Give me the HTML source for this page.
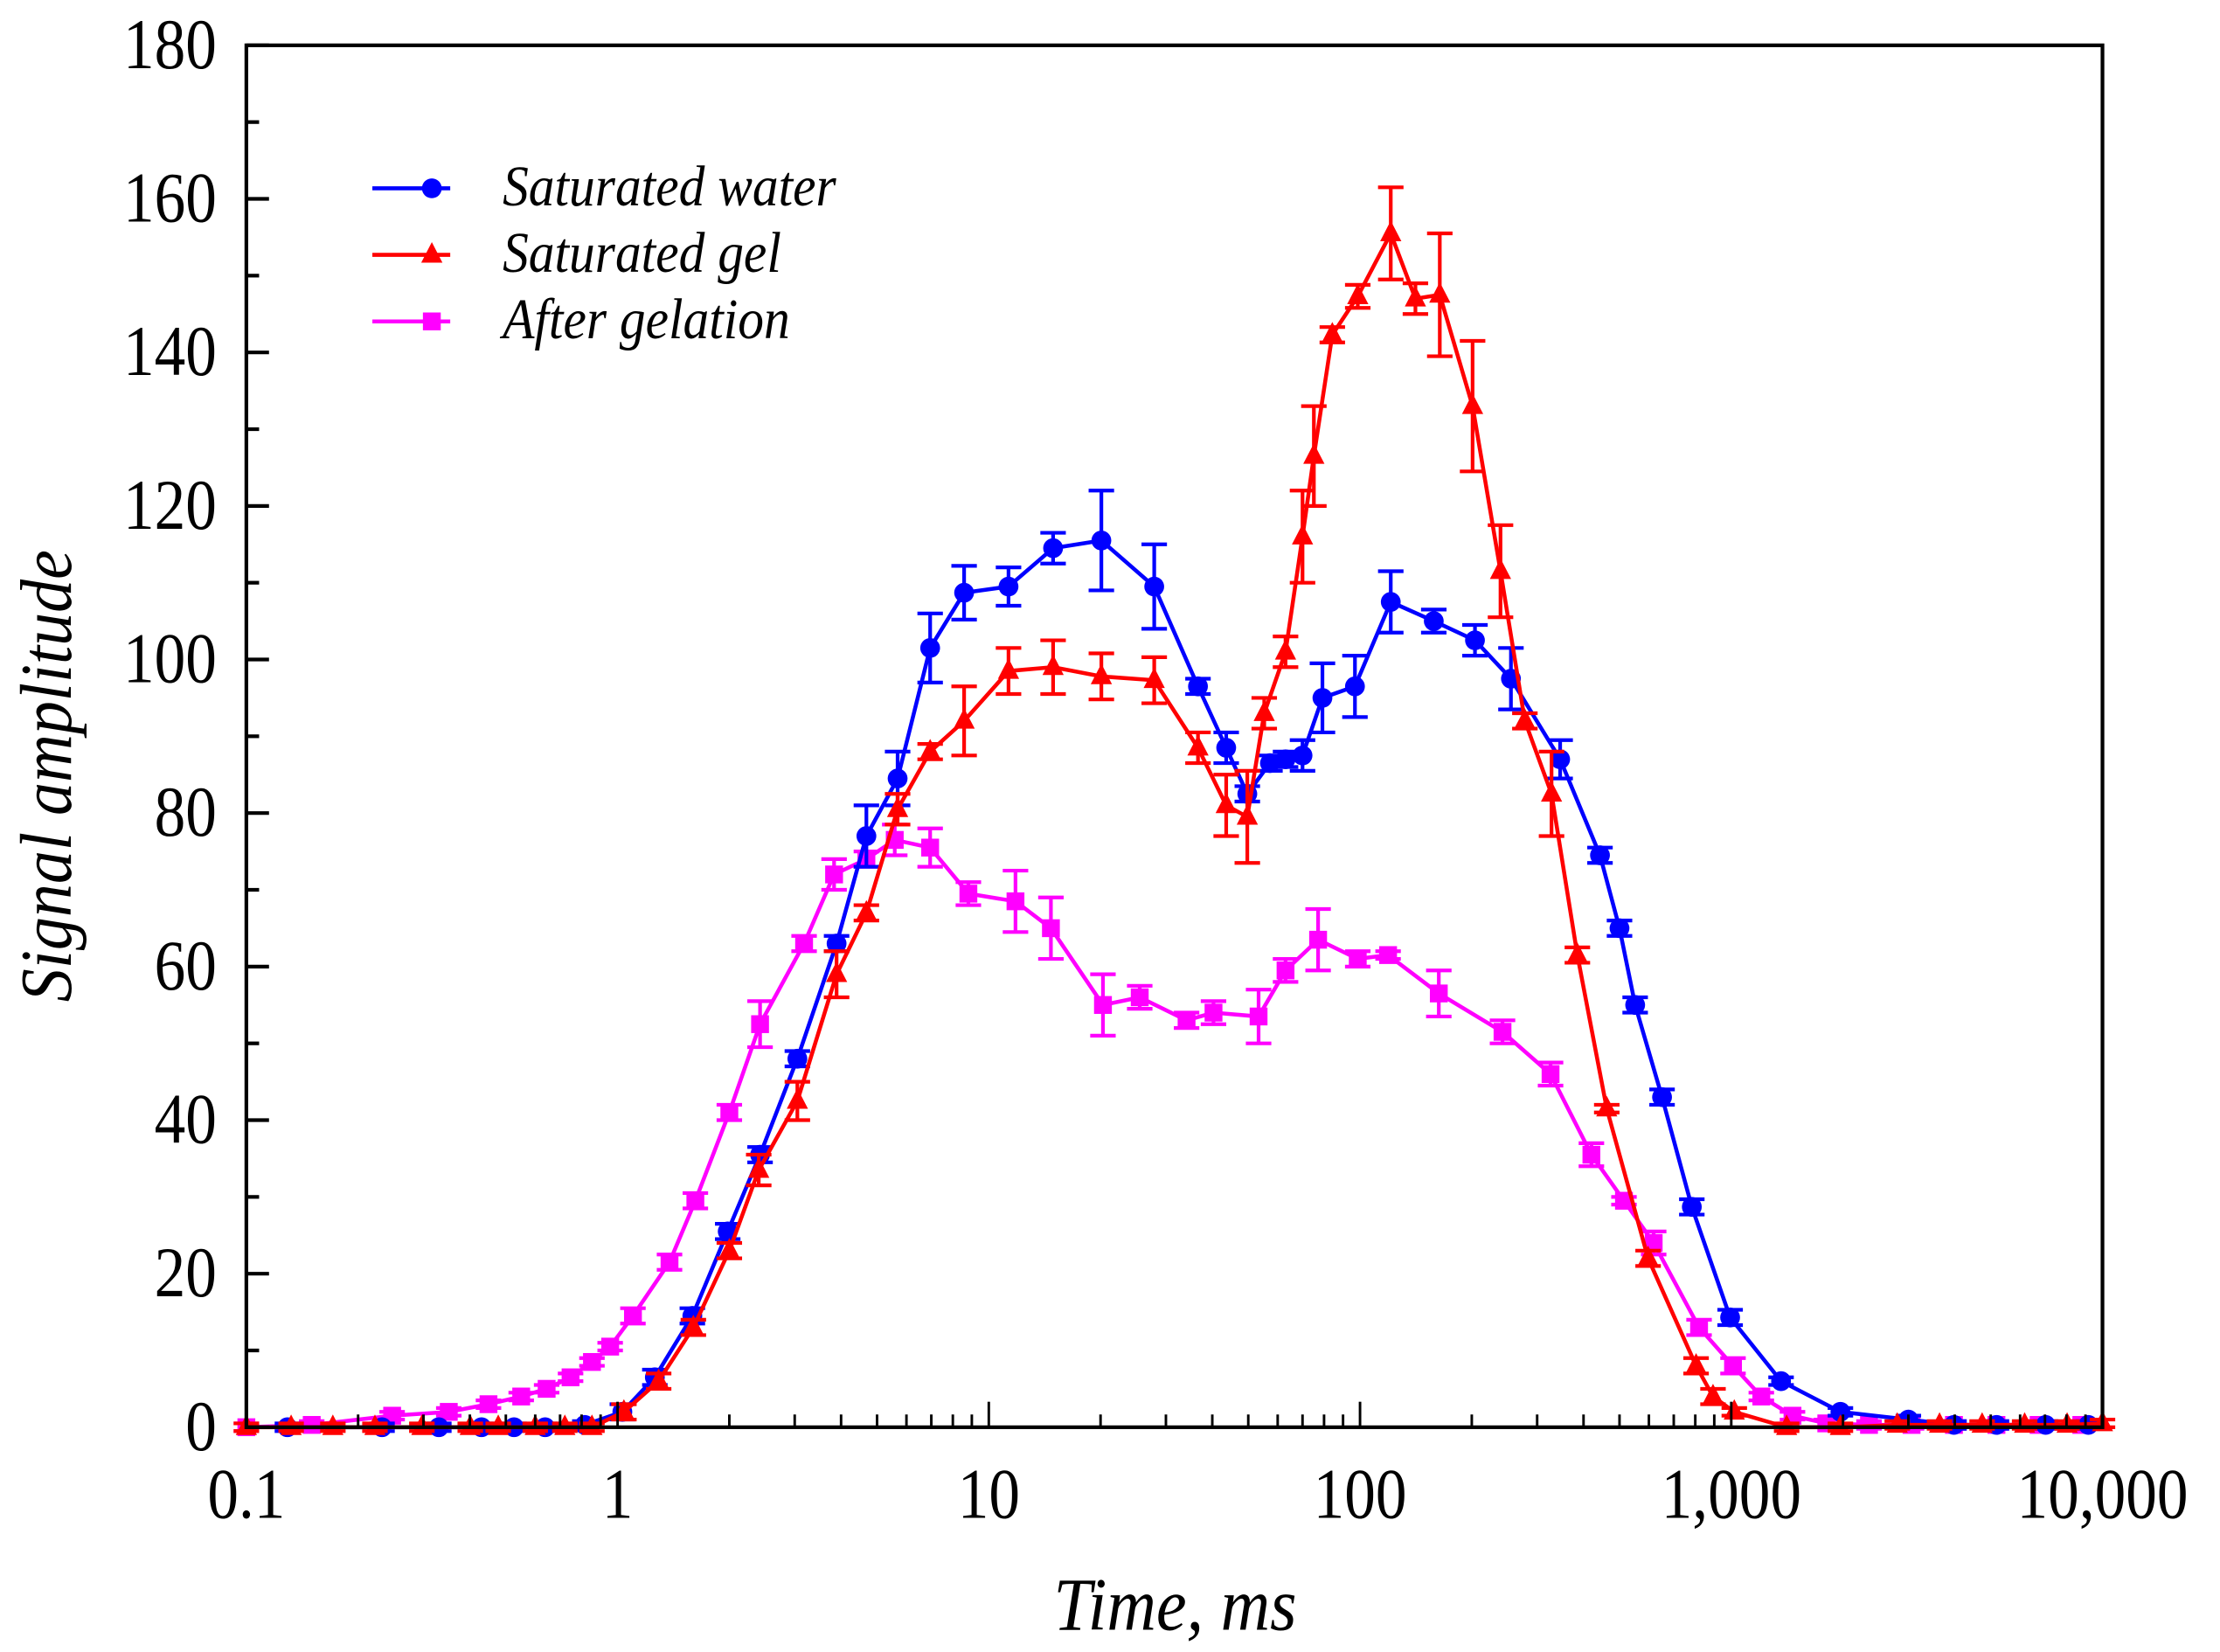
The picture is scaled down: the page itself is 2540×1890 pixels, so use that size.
<!DOCTYPE html>
<html><head><meta charset="utf-8">
<style>
html,body{margin:0;padding:0;background:#fff;}
svg{display:block;}
text{font-family:"Liberation Serif",serif;fill:#000;}
</style></head>
<body>
<svg id="chart" width="2540" height="1890" viewBox="0 0 1568 1166.75" xmlns="http://www.w3.org/2000/svg">
<rect x="0" y="0" width="1568" height="1167" fill="#fff"/>
<g id="plot"></g>
<g id="axes"></g>
</svg>
<script>
// ---- data ----
const xTickValues = [0.1, 1, 10, 100, 1000, 10000];
const xTickLabels = ["0.1", "1", "10", "100", "1,000", "10,000"];
const yTickValues = [0, 20, 40, 60, 80, 100, 120, 140, 160, 180];
const yTickLabels = ["0", "20", "40", "60", "80", "100", "120", "140", "160", "180"];

const waterTime = [0.129,0.232,0.330,0.430,0.526,0.638,0.816,1.03,1.26,1.59,1.98,2.42,3.05,3.89,4.68,5.68,6.95,8.58,11.3,14.9,20.1,27.9,36.6,43.6,49.7,57.2,63.0,70.0,79.2,96.9,121,158,204,255,346,443,500,551,651,783,993,1362,1968,3000,3980,5180,7030,9160];
const waterValue = [0,0,0,0,0,0,0.3,2,6.5,14.5,25.5,35.5,48,63,77,84.5,101.5,108.7,109.5,114.5,115.5,109.5,96.5,88.5,82.5,86.5,87,87.5,95,96.5,107.5,105,102.5,97.5,87,74.5,65,55,43,28.7,14.3,6,2,1,0.3,0.3,0.3,0.3];
const waterError = [0.5,0.5,0.5,0.5,0.5,0.5,0.5,1,1,1,1,1,1,1,4,3.5,4.5,3.5,2.5,2,6.5,5.5,1,2,1,1,1,2,4.5,4,4,1.5,2,4,2.5,1,1,1,1,1,1,0.5,0.5,0.5,0.5,0.5,0.5,0.5];

const gelTime = [0.1,0.132,0.171,0.222,0.297,0.401,0.477,0.600,0.721,0.853,1.04,1.29,1.60,2.00,2.40,3.05,3.89,4.68,5.68,6.95,8.58,11.3,14.9,20.1,27.9,36.6,43.6,49.7,55.2,63.0,70.0,75.1,84.2,98.6,121,141,164,201,239,278,328,385,462,597,804,893,1019,1410,1968,2800,3640,4740,6170,8030,10000];
const gelValue = [0,0,0,0,0,0,0,0,0,0,2,6,13,23,33.5,42.5,59,67,80.5,88,92,98.5,99,97.8,97.3,88.5,81,79.5,93,101,116,126.5,142.3,147.3,155.5,147,147.5,133,111.5,92,82.5,61.5,41.5,22,8,4,2,0,0,0.3,0.3,0.3,0.3,0.3,0.5];
const gelError = [0.5,0.5,0.5,0.5,0.5,0.5,0.5,0.5,0.5,0.5,1,1,1,1,2,2.5,3,1,2,1,4.5,3,3.5,3,3,2,4,6,2,2,6,6.5,1,1.5,6,2,8,8.5,6,1,5.5,1,0.5,1,1,1,0.5,0.5,0.5,0.5,0.5,0.5,0.5,0.5,0.5];

const gelationTime = [0.1,0.150,0.247,0.351,0.449,0.550,0.644,0.747,0.853,0.955,1.10,1.38,1.62,2.00,2.42,3.18,3.83,4.68,5.58,6.95,8.81,11.8,14.7,20.3,25.5,34.1,40.3,53.3,63.0,77.1,98.6,119,163,242,326,420,514,618,819,1011,1205,1462,1803,2350,3060,3980,5180,6730,8770];
const gelationValue = [0,0.3,1.5,2,3,4,5,6.5,8.5,10.5,14.5,21.5,29.5,41,52.5,63,72,74,76.5,75.5,69.5,68.5,65,55,56,53,54,53.5,59.5,63.5,61,61.5,56.5,51.5,46,35.5,29.5,24,13,8,4,1.5,0.5,0.3,0.3,0.3,0.3,0.3,0.3];
const gelationError = [0.5,0.5,0.5,0.5,0.5,0.5,0.5,0.5,0.5,0.5,1,1,1,1,3,1,2,1,2,2.5,1.5,4,4,4,1.5,1,1.5,3.5,1.5,4,1,0.5,3,1.5,1.5,1.5,0.5,1.5,1,1,0.5,0.5,0.5,0.5,0.5,0.5,0.5,0.5,0.5];

// ---- layout (display units) ----
const L = 174, R = 1485, T = 32, B = 1008;
const xMin = 0.1, xMax = 10000, yMin = 0, yMax = 180;
function xs(v){ return L + (Math.log10(v) - Math.log10(xMin)) / (Math.log10(xMax) - Math.log10(xMin)) * (R - L); }
function ys(v){ return B - (v - yMin) / (yMax - yMin) * (B - T); }

const NS = "http://www.w3.org/2000/svg";
function mk(tag, attrs, parent){
  const e = document.createElementNS(NS, tag);
  for (const k in attrs) e.setAttribute(k, attrs[k]);
  parent.appendChild(e);
  return e;
}
const plot = document.getElementById("plot");
const axes = document.getElementById("axes");

function marker(type, x, y, color, g){
  let m;
  if (type === "circle") m = mk("circle", {cx:x, cy:y, r:7, fill:color}, g);
  else if (type === "triangle") m = mk("polygon", {points:`${x},${y-9} ${x-7.5},${y+5.5} ${x+7.5},${y+5.5}`, fill:color}, g);
  else m = mk("rect", {x:x-6.3, y:y-6.3, width:12.6, height:12.6, fill:color}, g);
  return m;
}

function drawSeries(name, times, values, errors, color, type){
  const g = mk("g", {}, plot);
  
  
  const pts = times.map((t,i) => xs(t).toFixed(2) + "," + ys(values[i]).toFixed(2)).join(" ");
  const line = mk("polyline", {points:pts, fill:"none", stroke:color, "stroke-width":2.8, "stroke-linejoin":"round"}, g);
  
  
  times.forEach((t,i) => {
    const x = xs(t), y1 = ys(values[i] + errors[i]), y2 = ys(values[i] - errors[i]);
    const eg = mk("g", {stroke:color, "stroke-width":2.6}, g);
    
    
    mk("line", {x1:x, y1:y1, x2:x, y2:y2}, eg);
    mk("line", {x1:x-9, y1:y1, x2:x+9, y2:y1}, eg);
    mk("line", {x1:x-9, y1:y2, x2:x+9, y2:y2}, eg);
  });
  times.forEach((t,i) => {
    const m = marker(type, xs(t), ys(values[i]), color, g);
    
    
  });
}
drawSeries("after-gelation", gelationTime, gelationValue, gelationError, "#ff00ff", "square");
drawSeries("saturated-water", waterTime, waterValue, waterError, "#0000ff", "circle");
drawSeries("saturated-gel", gelTime, gelValue, gelError, "#ff0000", "triangle");

// ---- axes ----
const frame = mk("rect", {x:L, y:T, width:R-L, height:B-T, fill:"none", stroke:"#000", "stroke-width":2.6}, axes);



// y ticks
for (let v = 0; v <= 180; v += 10){
  const major = v % 20 === 0;
  const t = mk("line", {x1:L, y1:ys(v), x2:L + (major ? 16 : 9), y2:ys(v), stroke:"#000", "stroke-width":2.6}, axes);
  
  
}
yTickValues.forEach((v,i) => {
  const tx = mk("text", {x:0, y:0, "text-anchor":"end", "font-size":44, transform:`translate(153,${ys(v)+16}) scale(1,1.15)`}, axes);
  tx.textContent = yTickLabels[i];
  
  
});
// x ticks
for (let d = -1; d < 4; d++){
  for (let k = 1; k < 10; k++){
    const v = k * Math.pow(10, d);
    const t = mk("line", {x1:xs(v), y1:B, x2:xs(v), y2:B - (k === 1 ? 18 : 9), stroke:"#000", "stroke-width":1.8}, axes);
    
    
  }
}
xTickValues.forEach((v,i) => {
  const tx = mk("text", {x:0, y:0, "text-anchor":"middle", "font-size":44, transform:`translate(${xs(v)},1072) scale(1,1.15)`}, axes);
  tx.textContent = xTickLabels[i];
  
  
});

// axis titles
const xt = mk("text", {x:0, y:0, "text-anchor":"middle", "font-size":46, "font-style":"italic", transform:"translate(830,1151) scale(1.05,1.15)"}, axes);
xt.textContent = "Time, ms";


const yt = mk("text", {x:0, y:0, "text-anchor":"middle", "font-size":46, "font-style":"italic", transform:"translate(50,548) rotate(-90) scale(1.02,1.12)"}, axes);
yt.textContent = "Signal amplitude";



// legend
const legendItems = [["Saturated water","#0000ff","circle",133],["Saturated gel","#ff0000","triangle",180],["After gelation","#ff00ff","square",227]];
const lg = mk("g", {}, axes);


legendItems.forEach(it => {
  const e = mk("g", {}, lg);
  
  
  mk("line", {x1:263, y1:it[3], x2:318, y2:it[3], stroke:it[1], "stroke-width":2.8}, e);
  marker(it[2], 305, it[3], it[1], e);
  const t = mk("text", {x:0, y:0, "font-size":36, "font-style":"italic", transform:`translate(355,${it[3]+12}) scale(1.02,1.12)`}, e);
  t.textContent = it[0];
});
</script>
</body></html>
